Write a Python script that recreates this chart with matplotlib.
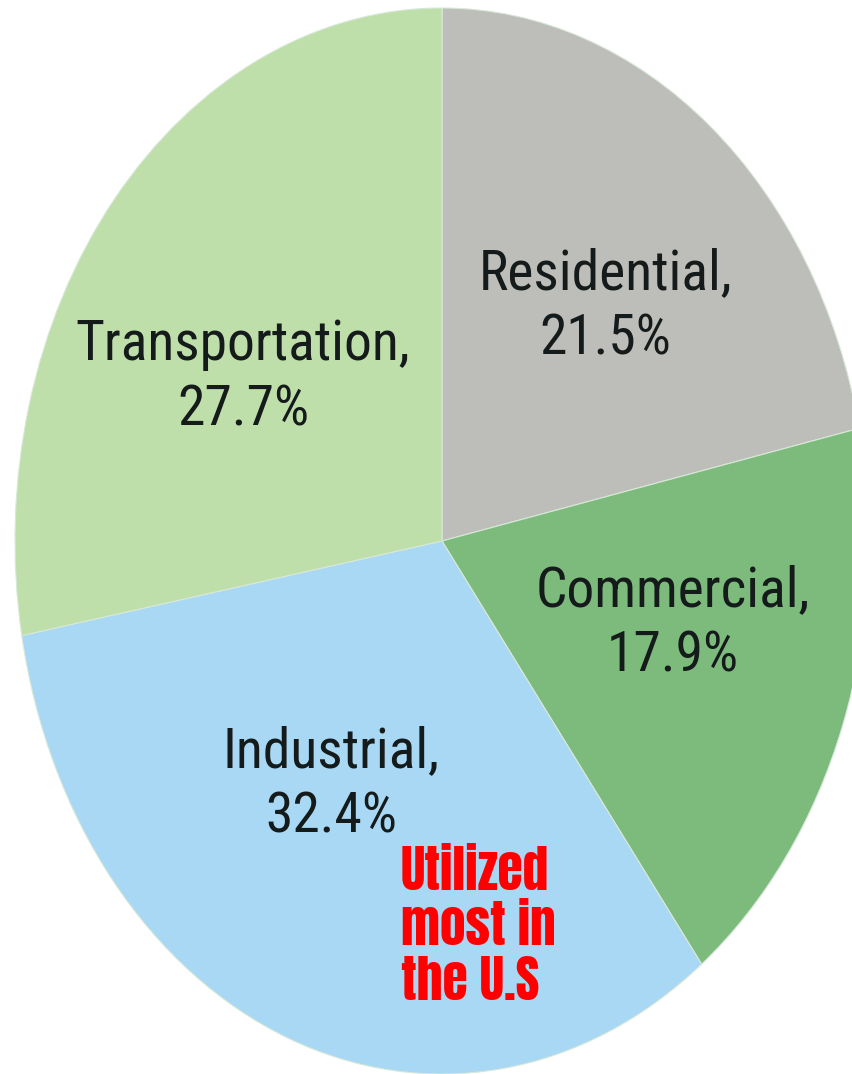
import matplotlib
matplotlib.use('Agg')
import matplotlib.pyplot as plt

# Energy use by sector
sectors = ['Residential', 'Commercial', 'Industrial', 'Transportation']
shares = [21.5, 17.9, 32.4, 27.7]
colors = ['#bdbdba', '#7dbb7d', '#a8d8f4', '#bfdfaa']

# label centres, in pie-radius units
label_pos = [(0.382, 0.440), (0.541, -0.155), (-0.260, -0.457), (-0.466, 0.307)]

label_font = ['Roboto Condensed', 'Liberation Sans', 'DejaVu Sans']
note_font = ['Anton', 'Oswald', 'Liberation Sans', 'DejaVu Sans']


def driver():
    fig = plt.figure(figsize=(8.53, 10.74), dpi=100)
    ax = fig.add_axes([0, 0, 1, 1])

    ax.pie(shares, colors=colors, startangle=90, counterclock=False,
           wedgeprops=dict(edgecolor='#d8e8d8', linewidth=0.8))
    ax.set_aspect('auto')

    # pie is an ellipse, stretched vertically and cut off on the right
    ax.set_xlim(-1 - 15 * 2 / 854, -1 + (853 - 15) * 2 / 854)
    ax.set_ylim(-1, 1 + 8 * 2 / 1066)
    ax.axis('off')

    for name, val, (x, y) in zip(sectors, shares, label_pos):
        ax.text(x, y, '%s,\n%.1f%%' % (name, val), ha='center', va='center',
                multialignment='center', fontsize=40, color='#151a1a',
                family=label_font, linespacing=1.3)

    ax.text(-0.096, -0.572, 'Utilized\nmost in\nthe U.S', ha='left', va='top',
            fontsize=37, color='#ff0000', family=note_font, linespacing=1.12)

    fig.savefig('out.png', dpi=100)


if __name__ == '__main__':
    driver()
